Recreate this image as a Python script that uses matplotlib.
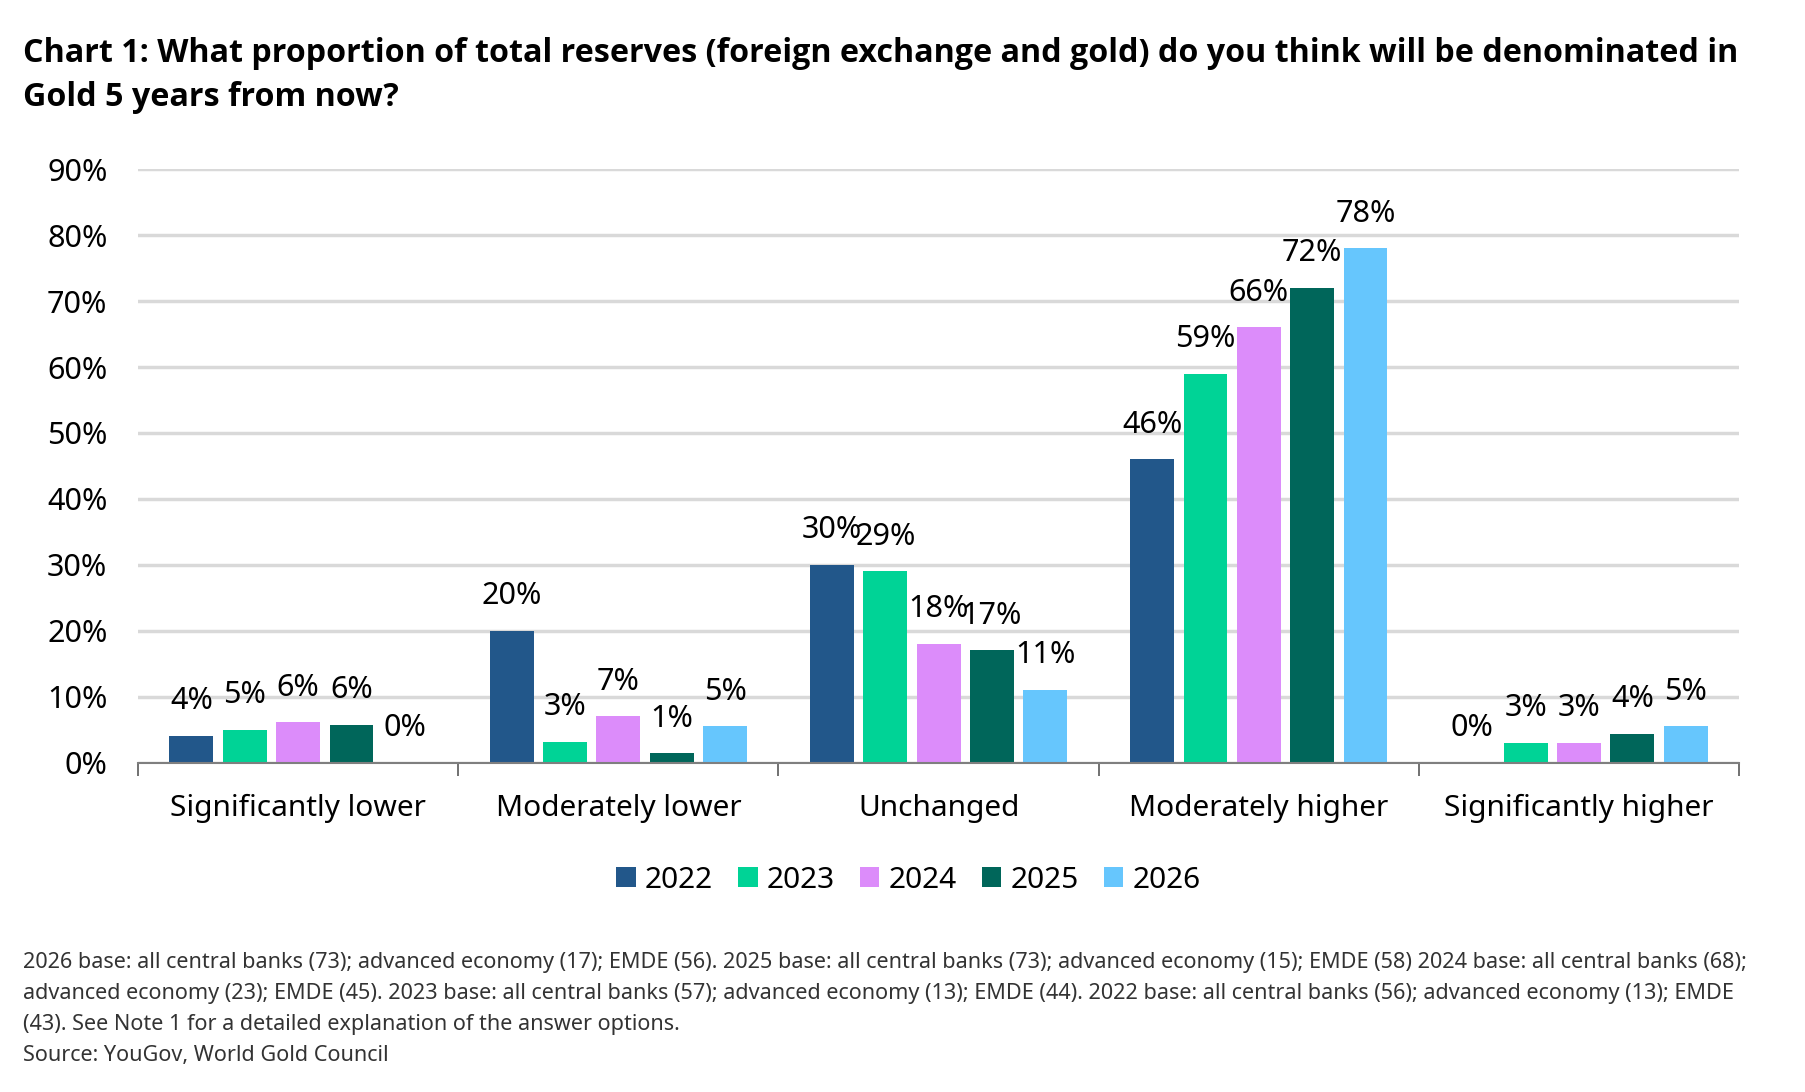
import numpy as np
import matplotlib
matplotlib.use("Agg")
import matplotlib.pyplot as plt
from matplotlib import font_manager

plt.rcParams['font.family'] = ['Noto Sans', 'DejaVu Sans']

# answer options and survey years
categories = ["Significantly lower", "Moderately lower", "Unchanged",
              "Moderately higher", "Significantly higher"]
years = ["2022", "2023", "2024", "2025", "2026"]

# bar heights (%), per year
values = {
    "2022": [4.0, 20.0, 30.0, 46.0, 0.0],
    "2023": [5.0, 3.1, 29.0, 59.0, 3.0],
    "2024": [6.1, 7.0, 18.0, 66.0, 3.0],
    "2025": [5.7, 1.4, 17.0, 72.0, 4.3],
    "2026": [0.0, 5.5, 11.0, 78.0, 5.5],
}
# printed data labels
labels = {
    "2022": ["4%", "20%", "30%", "46%", "0%"],
    "2023": ["5%", "3%", "29%", "59%", "3%"],
    "2024": ["6%", "7%", "18%", "66%", "3%"],
    "2025": ["6%", "1%", "17%", "72%", "4%"],
    "2026": ["0%", "5%", "11%", "78%", "5%"],
}
colors = ["#22578a", "#00d396", "#dc8cfa", "#00665a", "#66c6fd"]

title = ("Chart 1: What proportion of total reserves (foreign exchange and gold) do you think will be denominated in\n"
         "Gold 5 years from now?")
footnote = [
    "2026 base: all central banks (73); advanced economy (17); EMDE (56). 2025 base: all central banks (73); advanced economy (15); EMDE (58) 2024 base: all central banks (68);",
    "advanced economy (23); EMDE (45). 2023 base: all central banks (57); advanced economy (13); EMDE (44). 2022 base: all central banks (56); advanced economy (13); EMDE",
    "(43). See Note 1 for a detailed explanation of the answer options.",
    "Source: YouGov, World Gold Council",
]

# pick a family that really has a bold face for the title
bold_family = ['Noto Sans', 'DejaVu Sans']
for fam in ['Noto Sans', 'Open Sans']:
    try:
        f = font_manager.findfont(font_manager.FontProperties(family=fam, weight='bold'),
                                  fallback_to_default=False)
        if 'bold' in f.lower():
            bold_family = [fam, 'DejaVu Sans']
            break
    except Exception:
        pass

fig = plt.figure(figsize=(18.06, 10.92), dpi=100)
ax = fig.add_axes([0.0764, 0.3017, 0.8866, 0.5433])

x = np.arange(len(categories))
step = 0.1666
width = 0.137
for i, (yr, col) in enumerate(zip(years, colors)):
    pos = x + (i - 2) * step
    ax.bar(pos, values[yr], width=width, color=col, label=yr, zorder=3)
    for px, v, lab in zip(pos, values[yr], labels[yr]):
        ax.annotate(lab, (px, v), xytext=(0, 25), textcoords="offset points",
                    ha="center", va="center", fontsize=22, color="black")

ax.set_ylim(0, 90)
ax.set_xlim(-0.5, len(categories) - 0.5)
ax.set_yticks(np.arange(0, 91, 10))
ax.set_yticklabels([f"{t}%" for t in range(0, 91, 10)], fontsize=22)
ax.yaxis.grid(True, color="#d9d9d9", linewidth=2.5, zorder=0)
ax.set_xticks(x)
ax.set_xticklabels(categories, fontsize=21.5)
ax.set_xticks(np.arange(-0.5, len(categories)), minor=True)
ax.tick_params(axis="x", which="major", length=0, pad=22.5)
ax.tick_params(axis="x", which="minor", length=9, width=1.2, color="#595959")
ax.tick_params(axis="y", length=0, pad=22)
for s in ["top", "right", "left"]:
    ax.spines[s].set_visible(False)
ax.spines["bottom"].set_color("#7f7f7f")
ax.spines["bottom"].set_linewidth(1.5)
ax.spines["bottom"].set_zorder(4)

fig.legend(loc="center", bbox_to_anchor=(0.503, 0.194), ncol=5, frameon=False,
           fontsize=21.5, handlelength=0.65, handleheight=0.65, handletextpad=0.3,
           columnspacing=0.85)

fig.text(0.0127, 0.9665, title, fontsize=23.2, fontweight="bold", va="top",
         ha="left", linespacing=1.47, family=bold_family)

for k, line in enumerate(footnote):
    fig.text(0.0127, 0.1185 - k * 0.0283, line, fontsize=15.55, va="center",
             ha="left", color="#333333")

fig.savefig("out.png", dpi=100)
